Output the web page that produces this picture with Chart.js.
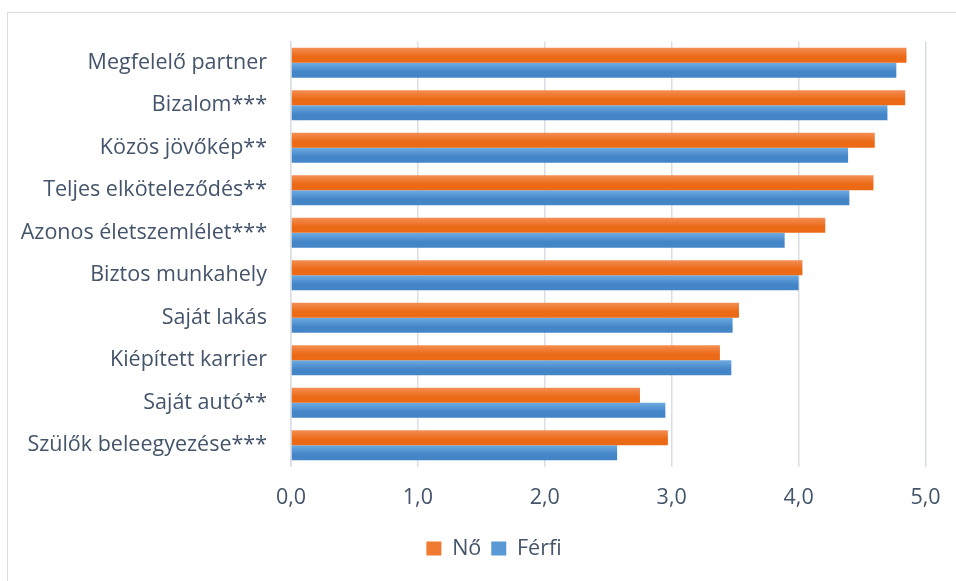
<!DOCTYPE html>
<html>
<head>
<meta charset="utf-8">
<script src="https://cdn.jsdelivr.net/npm/chart.js@4"></script>
<style>
	html, body {
		margin: 0;
		padding: 0;
		background: #fff;
		overflow: hidden;
		width: 956px;
		height: 581px;
	}
	#frame {
		position: absolute;
		left: 7px;
		top: 12px;
		width: 974px;
		height: 575px;
		border: 1.5px solid #d9dee4;
		box-sizing: border-box;
	}
</style>
</head>
<body>
<div id="frame"><canvas id="pref-bar-chart"></canvas></div>
<script>
const categories = [
	'Megfelelő partner',
	'Bizalom***',
	'Közös jövőkép**',
	'Teljes elköteleződés**',
	'Azonos életszemlélet***',
	'Biztos munkahely',
	'Saját lakás',
	'Kiépített karrier',
	'Saját autó**',
	'Szülők beleegyezése***',
];
const seriesNames = ['Nő', 'Férfi'];
const noValues = [4.85, 4.84, 4.60, 4.59, 4.21, 4.03, 3.53, 3.38, 2.75, 2.97];
const ferfiValues = [4.77, 4.70, 4.39, 4.40, 3.89, 4.00, 3.48, 3.47, 2.95, 2.57];
const tickLabels = ['0,0', '1,0', '2,0', '3,0', '4,0', '5,0'];

const orange = ['#f38f55', '#ec6a16'];
const blue = ['#6eabe2', '#4485c8'];
const textColor = '#44546a';
const gridColor = '#d9dee4';
const catPct = 0.71;
const fontSize = 21.5;

document.addEventListener('DOMContentLoaded', () => {
	prefBarChart();
});

// vertical gradient per bar, placed from the category scale
function barGradient(c, colors, side) {
	const chart = c.chart;
	const y = chart.scales.y;

	if (!y || c.dataIndex === undefined || !chart.chartArea) {
		return colors[1];
	}

	const pitch = y.getPixelForValue(1) - y.getPixelForValue(0);
	const mid = y.getPixelForValue(c.dataIndex);
	const half = (pitch * catPct) / 2;
	const top = side === 0 ? mid - half : mid;
	const g = chart.ctx.createLinearGradient(0, top, 0, top + half);
	g.addColorStop(0, colors[0]);
	g.addColorStop(0.6, colors[1]);
	g.addColorStop(1, colors[1]);
	return g;
}

function prefBarChart() {
	const ctx = document.getElementById('pref-bar-chart');

	if (!ctx) {
		return;
	}

	Chart.defaults.font.family = '"Open Sans", sans-serif';

	new Chart(ctx, {
		type: 'bar',
		data: {
			labels: categories,
			datasets: [
				{
					label: seriesNames[0],
					data: noValues,
					backgroundColor: (c) => barGradient(c, orange, 0),
				},
				{
					label: seriesNames[1],
					data: ferfiValues,
					backgroundColor: (c) => barGradient(c, blue, 1),
				},
			],
		},
		options: {
			indexAxis: 'y',
			responsive: true,
			maintainAspectRatio: false,
			animation: false,
			layout: {
				padding: { top: 28.5, right: 0, bottom: 16.75, left: 0 },
			},
			datasets: {
				bar: {
					barPercentage: 1,
					categoryPercentage: catPct,
				},
			},
			plugins: {
				legend: {
					position: 'bottom',
					labels: {
						color: textColor,
						font: { size: fontSize },
						boxWidth: 15,
						boxHeight: 14,
						padding: 10,
						generateLabels: () => [
							{ text: seriesNames[0], fillStyle: '#ef7a30', strokeStyle: '#ef7a30', lineWidth: 0, datasetIndex: 0, fontColor: textColor },
							{ text: seriesNames[1], fillStyle: '#5899d6', strokeStyle: '#5899d6', lineWidth: 0, datasetIndex: 1, fontColor: textColor },
						],
					},
				},
				tooltip: { enabled: false },
			},
			scales: {
				x: {
					min: 0,
					max: 5,
					ticks: {
						stepSize: 1,
						color: textColor,
						font: { size: fontSize },
						padding: 18,
						callback: (value, index) => tickLabels[index],
					},
					grid: {
						color: gridColor,
						lineWidth: 1.5,
						drawTicks: false,
					},
					border: { display: false },
					afterFit: (scale) => {
						scale.height = 61.25;
						scale.paddingLeft = 0;
						scale.paddingRight = 0;
					},
				},
				y: {
					ticks: {
						color: textColor,
						font: { size: fontSize },
						padding: 24,
					},
					grid: { display: false, drawTicks: false },
					border: {
						color: gridColor,
						width: 1.5,
					},
					afterFit: (scale) => {
						scale.width = 283;
						scale.paddingTop = 0;
						scale.paddingBottom = 0;
					},
				},
				// empty right-hand spacer, keeps the legend centred on the full width
				yRight: {
					type: 'category',
					labels: categories,
					position: 'right',
					ticks: { display: false },
					grid: { display: false, drawTicks: false },
					border: { display: false },
					afterFit: (scale) => {
						scale.width = 54.5;
						scale.paddingTop = 0;
						scale.paddingBottom = 0;
					},
				},
			},
		},
	});
}
</script>
</body>
</html>
